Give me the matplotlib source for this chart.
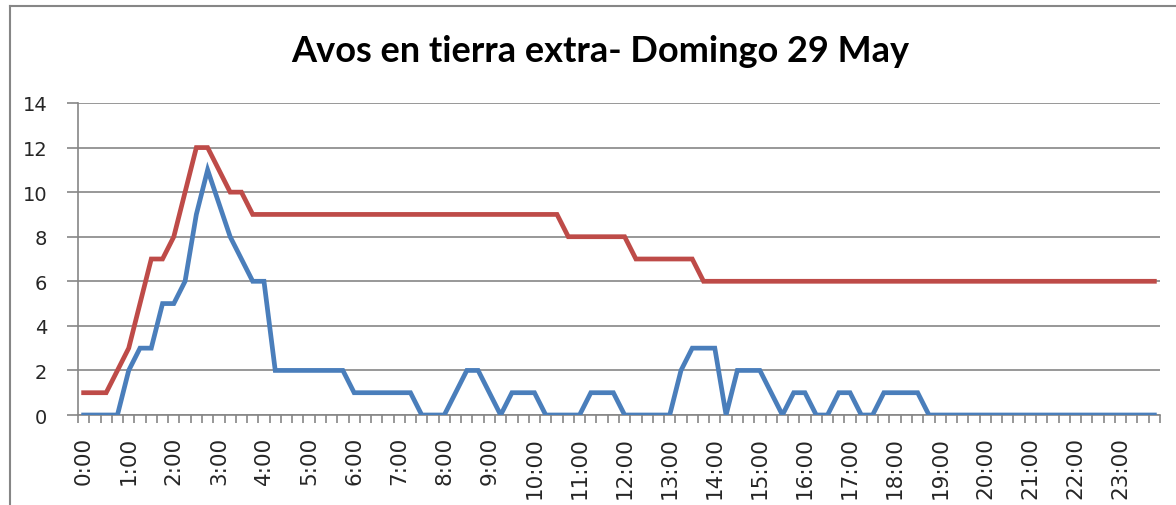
import matplotlib
matplotlib.use("Agg")
import matplotlib.pyplot as plt
from matplotlib.lines import Line2D
from matplotlib.ticker import FixedLocator

# ---- data (15-minute slots, 0:00 .. 23:45) ----
slot_labels = [f"{h}:{m:02d}" for h in range(24) for m in (0, 15, 30, 45)]
hour_labels = ["0:00", "1:00", "2:00", "3:00", "4:00", "5:00", "6:00", "7:00",
               "8:00", "9:00", "10:00", "11:00", "12:00", "13:00", "14:00",
               "15:00", "16:00", "17:00", "18:00", "19:00", "20:00", "21:00",
               "22:00", "23:00"]

red_values = [1, 1, 1, 2, 3, 5, 7, 7, 8, 10, 12, 12, 11, 10, 10, 9,
              9, 9, 9, 9, 9, 9, 9, 9, 9, 9, 9, 9, 9, 9, 9, 9,
              9, 9, 9, 9, 9, 9, 9, 9, 9, 9, 9, 8, 8, 8, 8, 8,
              8, 7, 7, 7, 7, 7, 7, 6, 6, 6, 6, 6, 6, 6, 6, 6,
              6, 6, 6, 6, 6, 6, 6, 6, 6, 6, 6, 6, 6, 6, 6, 6,
              6, 6, 6, 6, 6, 6, 6, 6, 6, 6, 6, 6, 6, 6, 6, 6]

blue_values = [0, 0, 0, 0, 2, 3, 3, 5, 5, 6, 9, 11, 9.5, 8, 7, 6,
               6, 2, 2, 2, 2, 2, 2, 2, 1, 1, 1, 1, 1, 1, 0, 0,
               0, 1, 2, 2, 1, 0, 1, 1, 1, 0, 0, 0, 0, 1, 1, 1,
               0, 0, 0, 0, 0, 2, 3, 3, 3, 0, 2, 2, 2, 1, 0, 1,
               1, 0, 0, 1, 1, 0, 0, 1, 1, 1, 1, 0, 0, 0, 0, 0,
               0, 0, 0, 0, 0, 0, 0, 0, 0, 0, 0, 0, 0, 0, 0, 0]

y_ticks = [0, 2, 4, 6, 8, 10, 12, 14]
title = "Avos en tierra extra- Domingo 29 May"

# ---- figure ----
W, H = 1176, 506
fig = plt.figure(figsize=(W / 100, H / 100), dpi=100)
fig.patch.set_facecolor("white")

left, right, top, bottom = 78, 1160, 104, 416
ax = fig.add_axes([left / W, 1 - bottom / H, (right - left) / W, (bottom - top) / H])

x = list(range(len(slot_labels)))
blue_c = "#4A7EBB"
red_c = "#BE4B48"
grid_c = "#868686"

ax.plot(x, blue_values, color=blue_c, lw=3.4, solid_joinstyle="miter", zorder=3)
ax.plot(x, red_values, color=red_c, lw=3.4, solid_joinstyle="miter", zorder=4)

ax.set_xlim(-0.5, len(slot_labels) - 0.5)
ax.set_ylim(0, 14)

ax.set_yticks(y_ticks)
ax.set_yticklabels([str(v) for v in y_ticks], family="DejaVu Sans")
ax.yaxis.grid(True, color=grid_c, lw=1.2)
ax.set_axisbelow(True)

hour_pos = [i for i, s in enumerate(slot_labels) if s.endswith(":00")]
ax.xaxis.set_major_locator(FixedLocator(hour_pos))
ax.set_xticklabels(hour_labels, rotation=90, fontsize=15.5, color="#262626",
                   family="DejaVu Sans")
ax.xaxis.set_minor_locator(FixedLocator([i - 0.5 for i in range(len(slot_labels) + 1)]))
ax.tick_params(axis="x", which="major", length=0, pad=15)
ax.tick_params(axis="x", which="minor", length=6, width=1.2, color=grid_c, direction="out")
ax.tick_params(axis="y", which="major", length=8, width=1.2, color=grid_c,
               labelsize=14, labelcolor="#262626", pad=14)

for s in ("top", "right"):
    ax.spines[s].set_visible(False)
for s in ("left", "bottom"):
    ax.spines[s].set_color(grid_c)
    ax.spines[s].set_linewidth(1.2)

fig.text(600 / W, 1 - 62 / H, title, ha="center", va="baseline",
         fontsize=26, fontweight="bold", family="Lato", color="#000000")

# outer chart border (cropped at right/bottom)
fig.add_artist(Line2D([10 / W, 1], [1 - 7 / H, 1 - 7 / H], transform=fig.transFigure,
                      color=grid_c, lw=1.5))
fig.add_artist(Line2D([10 / W, 10 / W], [0, 1 - 7 / H], transform=fig.transFigure,
                      color=grid_c, lw=1.5))

fig.savefig("out.png", dpi=100)
